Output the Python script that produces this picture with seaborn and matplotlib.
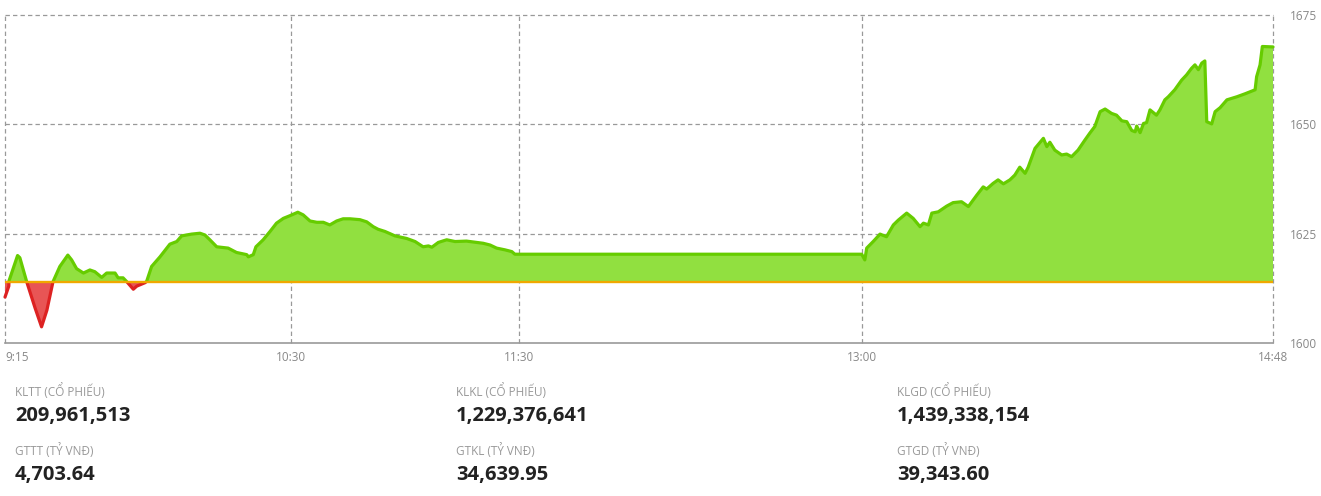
import numpy as np
import pandas as pd
import matplotlib
matplotlib.use("Agg")
import matplotlib.pyplot as plt
from matplotlib.patches import Rectangle
import seaborn as sns

# minutes after 9:15 and index value
minutes = [0, 1.0, 1.05, 3.3, 3.9, 5.7, 7.9, 9.6, 11.0, 12.6, 14.4, 16.5, 17.5, 18.8, 20.6, 22.3,
           23.6, 25.4, 26.7, 28.9, 29.7, 31.0, 32.0, 33.7, 34.6, 36.8, 37.2, 38.5, 40.7, 43.3,
           45.1, 46.4, 49.0, 51.2, 52.5, 53.8, 55.6, 58.6, 60.8, 63.5, 63.9, 65.2, 65.9, 67.8,
           69.6, 71.3, 73.1, 74.8, 76.9, 78.3, 80.1, 81.9, 83.6, 85.3, 87.1, 88.8, 90.6, 93.2,
           95.0, 96.7, 98.0, 99.8, 102.4, 105.5, 107.7, 109.8, 111.2, 112.1, 113.8, 116.0, 118.2,
           121.2, 123.0, 125.6, 127.4, 129.1, 131.3, 133.1, 133.9, 225.0, 225.8, 226.3, 228.0,
           229.8, 231.5, 233.3, 234.6, 236.8, 238.5, 240.3, 241.2, 242.5, 243.4, 245.1, 247.3,
           249.0, 251.2, 253.0, 255.2, 256.9, 257.8, 259.5, 260.8, 262.2, 263.9, 265.2, 266.5,
           267.9, 268.7, 270.5, 272.7, 273.6, 274.4, 275.7, 277.5, 278.8, 280.1, 281.8, 283.6,
           284.9, 286.2, 287.6, 288.9, 290.6, 291.9, 293.3, 294.6, 295.9, 296.8, 297.2, 298.1,
           299.0, 299.8, 300.7, 302.4, 303.3, 304.6, 305.5, 307.2, 309.0, 310.3, 311.6, 312.5,
           313.4, 314.3, 315.1, 315.6, 316.9, 317.8, 319.1, 320.9, 323.5, 325.7, 328.3, 328.7,
           329.6, 330.2, 333.0]
values = [1610.5, 1613.0, 1614.2, 1620.0, 1619.5, 1614.0, 1608.0, 1603.7, 1607.5, 1614.0, 1617.5,
          1620.1, 1619.0, 1617.0, 1616.0, 1616.7, 1616.3, 1615.0, 1616.0, 1616.0, 1614.9, 1614.9,
          1614.0, 1612.3, 1613.0, 1613.8, 1614.1, 1617.5, 1619.7, 1622.6, 1623.2, 1624.5, 1624.9,
          1625.1, 1624.7, 1623.6, 1622.0, 1621.7, 1620.7, 1620.2, 1619.7, 1620.2, 1622.0, 1623.6,
          1625.5, 1627.4, 1628.5, 1629.1, 1629.9, 1629.3, 1627.9, 1627.6, 1627.6, 1627.0, 1627.9,
          1628.4, 1628.4, 1628.2, 1627.7, 1626.6, 1626.0, 1625.5, 1624.5, 1623.9, 1623.2, 1622.0,
          1622.2, 1621.9, 1623.0, 1623.6, 1623.2, 1623.3, 1623.1, 1622.8, 1622.4, 1621.7, 1621.3,
          1620.9, 1620.3, 1620.3, 1619.0, 1621.7, 1623.2, 1624.9, 1624.3, 1627.0, 1628.1, 1629.7,
          1628.5, 1626.6, 1627.4, 1627.0, 1629.7, 1630.0, 1631.3, 1632.1, 1632.3, 1631.2, 1633.8,
          1635.7, 1635.2, 1636.5, 1637.3, 1636.4, 1637.3, 1638.4, 1640.2, 1638.8, 1640.2, 1644.5,
          1646.8, 1644.9, 1645.9, 1644.1, 1643.0, 1643.2, 1642.6, 1644.1, 1646.4, 1648.0, 1649.5,
          1652.9, 1653.5, 1652.5, 1652.1, 1650.8, 1650.6, 1648.6, 1648.3, 1649.6, 1648.1, 1650.2,
          1650.4, 1653.3, 1652.1, 1653.3, 1655.6, 1656.3, 1657.9, 1660.1, 1661.3, 1662.8, 1663.6,
          1662.5, 1664.0, 1664.5, 1650.6, 1650.1, 1652.9, 1653.8, 1655.6, 1656.3, 1657.0, 1657.9,
          1660.9, 1663.6, 1667.8, 1667.7]

ref_value = 1614.0
x_ticks = [0, 75, 135, 225, 333]
x_labels = ["9:15", "10:30", "11:30", "13:00", "14:48"]
y_ticks = [1600, 1625, 1650, 1675]

stat_labels = [["KLTT (CỔ PHIẾU)", "GTTT (TỶ VNĐ)"],
               ["KLKL (CỔ PHIẾU)", "GTKL (TỶ VNĐ)"],
               ["KLGD (CỔ PHIẾU)", "GTGD (TỶ VNĐ)"]]
stat_values = [["209,961,513", "4,703.64"],
               ["1,229,376,641", "34,639.95"],
               ["1,439,338,154", "39,343.60"]]

df = pd.DataFrame({"t": minutes, "v": values})

sns.set_style("white")
plt.rcParams["font.family"] = ["Open Sans", "DejaVu Sans"]

fig = plt.figure(figsize=(13.21, 4.96), dpi=100)
ax = fig.add_axes([5 / 1321, 153 / 496, 1268 / 1321, 328 / 496])

green_fill = "#91e040"
green_line = "#66cc00"
red_fill = "#e85555"
red_line = "#dd2222"

t = df["t"].values
v = df["v"].values
ax.fill_between(t, v, ref_value, where=v >= ref_value, interpolate=True,
                color=green_fill, linewidth=0, zorder=2)
ax.fill_between(t, v, ref_value, where=v <= ref_value, interpolate=True,
                color=red_fill, linewidth=0, zorder=2)

# same line twice, clipped above / below the reference
sns.lineplot(data=df, x="t", y="v", ax=ax, color=green_line, linewidth=2.3,
             estimator=None, sort=False, zorder=4)
sns.lineplot(data=df, x="t", y="v", ax=ax, color=red_line, linewidth=2.3,
             estimator=None, sort=False, zorder=4)
lines = ax.get_lines()
above = Rectangle((-10, ref_value), 400, 200, transform=ax.transData)
below = Rectangle((-10, ref_value - 200), 400, 200, transform=ax.transData)
lines[0].set_clip_path(above)
lines[1].set_clip_path(below)

ax.axhline(ref_value, color="#f0a800", linewidth=1.7, zorder=5)

ax.set_xlim(0, 333)
ax.set_ylim(1600, 1675)

dash = (0, (3.5, 2.5))
for xt in x_ticks:
    ax.axvline(xt, color="#999999", linewidth=0.9, linestyle=dash, zorder=1, clip_on=False)
for yt in y_ticks[1:]:
    ax.axhline(yt, color="#999999", linewidth=0.9, linestyle=dash, zorder=1, clip_on=False)

for s in ["left", "right", "top"]:
    ax.spines[s].set_visible(False)
ax.spines["bottom"].set_color("#999999")
ax.spines["bottom"].set_linewidth(1.2)

ax.set_xticks(x_ticks)
ax.set_xticklabels(x_labels, fontsize=8.5, color="#888888")
ax.get_xticklabels()[0].set_ha("left")
ax.yaxis.tick_right()
ax.set_yticks(y_ticks)
ax.set_yticklabels([str(y) for y in y_ticks], fontsize=8.5, color="#888888")
ax.tick_params(axis="x", length=0, pad=6)
ax.tick_params(axis="y", length=0, pad=12)
ax.set_xlabel("")
ax.set_ylabel("")

col_x = [15 / 1321, 456 / 1321, 897 / 1321]
label_y = [1 - 391 / 496, 1 - 451 / 496]
value_y = [1 - 416 / 496, 1 - 475 / 496]
for i in range(3):
    for j in range(2):
        fig.text(col_x[i], label_y[j], stat_labels[i][j], fontsize=8.5, color="#999999",
                 ha="left", va="center")
        fig.text(col_x[i], value_y[j], stat_values[i][j], fontsize=14.5, color="#222222",
                 fontweight="bold", ha="left", va="center")

fig.savefig("out.png", dpi=100)
